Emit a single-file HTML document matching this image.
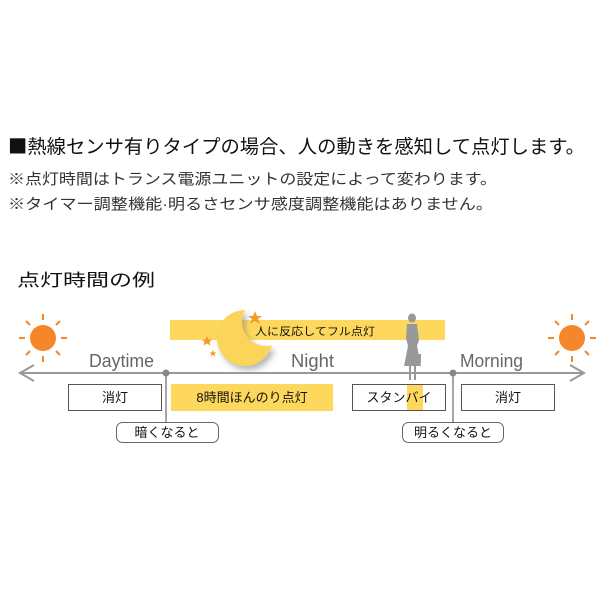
<!DOCTYPE html>
<html><head><meta charset="utf-8"><style>html,body{margin:0;padding:0;background:#fff}svg{display:block}</style></head><body>
<svg width="600" height="600" viewBox="0 0 600 600" xmlns="http://www.w3.org/2000/svg" font-family="'Liberation Sans','Noto Sans CJK JP',sans-serif">
<defs>
<filter id="sh" x="-50%" y="-50%" width="200%" height="200%"><feGaussianBlur stdDeviation="3"/></filter>
</defs>
<text x="8" y="153" font-size="19" textLength="577" lengthAdjust="spacingAndGlyphs" fill="#111"><tspan font-family="'Noto Sans CJK JP',sans-serif">■</tspan>熱線センサ有りタイプの場合、人の動きを感知して点灯します。</text>
<text x="8" y="184" font-size="15" textLength="489" lengthAdjust="spacingAndGlyphs" fill="#333">※点灯時間はトランス電源ユニットの設定によって変わります。</text>
<text x="8" y="209" font-size="15" textLength="485" lengthAdjust="spacingAndGlyphs" fill="#333">※タイマー調整機能·明るさセンサ感度調整機能はありません。</text>
<text x="17" y="286" font-size="17" textLength="138" lengthAdjust="spacingAndGlyphs" fill="#111">点灯時間の例</text>

<rect x="170" y="320" width="275" height="20" fill="#fed85c"/>
<path d="M245.2 310 A28 28 0 1 0 272 345.2 A24 24 0 0 1 245.2 310 Z" fill="#888" opacity="0.6" filter="url(#sh)" transform="translate(3,4)"/>
<path d="M245.2 310 A28 28 0 1 0 272 345.2 A24 24 0 0 1 245.2 310 Z" fill="#fbd55a"/>
<text x="255" y="335" font-size="11" textLength="120" lengthAdjust="spacingAndGlyphs" fill="#111">人に反応してフル点灯</text>
<polygon points="255,311 257,316 262,316 258,319 260,324 255,321 250,324 252,319 248,316 253,316" fill="#f39a2a"/>
<polygon points="207,336 208.5,339.5 212,339.5 209.5,342 210.5,345.5 207,343.5 203.5,345.5 204.5,342 202,339.5 205.5,339.5" fill="#f39a2a"/>
<polygon points="213,350 214,352.5 216.5,352.5 214.5,354 215.5,356.5 213,355 210.5,356.5 211.5,354 209.5,352.5 212,352.5" fill="#f39a2a"/>

<g stroke="#f5862a" stroke-width="2">
<line x1="43" y1="314" x2="43" y2="320"/><line x1="43" y1="356" x2="43" y2="362"/>
<line x1="19" y1="338" x2="25" y2="338"/><line x1="61" y1="338" x2="67" y2="338"/>
<line x1="26" y1="321" x2="30" y2="325"/><line x1="56" y1="351" x2="60" y2="355"/>
<line x1="60" y1="321" x2="56" y2="325"/><line x1="30" y1="351" x2="26" y2="355"/>
<line x1="572" y1="314" x2="572" y2="320"/><line x1="572" y1="356" x2="572" y2="362"/>
<line x1="548" y1="338" x2="554" y2="338"/><line x1="590" y1="338" x2="596" y2="338"/>
<line x1="555" y1="321" x2="559" y2="325"/><line x1="585" y1="351" x2="589" y2="355"/>
<line x1="589" y1="321" x2="585" y2="325"/><line x1="559" y1="351" x2="555" y2="355"/>
</g>
<circle cx="43" cy="338" r="13" fill="#f5862a"/>
<circle cx="572" cy="338" r="13" fill="#f5862a"/>

<text x="89" y="367" font-size="18" textLength="65" lengthAdjust="spacingAndGlyphs" fill="#666">Daytime</text>
<text x="291" y="367" font-size="18" textLength="43" lengthAdjust="spacingAndGlyphs" fill="#666">Night</text>
<text x="460" y="367" font-size="18" textLength="63" lengthAdjust="spacingAndGlyphs" fill="#666">Morning</text>

<line x1="20" y1="373" x2="584" y2="373" stroke="#999" stroke-width="2"/>
<polyline points="34,365 20,373 34,381" fill="none" stroke="#999" stroke-width="2"/>
<polyline points="570,365 584,373 570,381" fill="none" stroke="#999" stroke-width="2"/>

<g fill="#999">
<ellipse cx="412" cy="318" rx="4" ry="4.5"/>
<path d="M407,324 L417,324 L419,340 L417,346 L421,366 L404,366 L408,346 L406,338 Z"/>
<rect x="418" y="354" width="3" height="9"/>
<rect x="409" y="365" width="2" height="15"/><rect x="414" y="365" width="2" height="15"/>
</g>

<line x1="166" y1="373" x2="166" y2="422" stroke="#888" stroke-width="1.5"/>
<line x1="453" y1="373" x2="453" y2="422" stroke="#888" stroke-width="1.5"/>
<circle cx="166" cy="373" r="3.5" fill="#888"/>
<circle cx="453" cy="373" r="3.5" fill="#888"/>

<rect x="68.5" y="384.5" width="93" height="26" fill="#fff" stroke="#555"/>
<text x="115" y="402" font-size="13" text-anchor="middle" fill="#111">消灯</text>
<rect x="171" y="384" width="162" height="27" fill="#fed85c"/>
<text x="252" y="402" font-size="13" text-anchor="middle" fill="#111">8時間ほんのり点灯</text>
<rect x="407" y="384" width="16" height="27" fill="#fed85c"/>
<rect x="352.5" y="384.5" width="93" height="26" fill="none" stroke="#555"/>
<text x="399" y="402" font-size="13" text-anchor="middle" fill="#111">スタンバイ</text>
<rect x="461.5" y="384.5" width="93" height="26" fill="#fff" stroke="#555"/>
<text x="508" y="402" font-size="13" text-anchor="middle" fill="#111">消灯</text>

<rect x="116.5" y="422.5" width="102" height="20" rx="6" fill="#fff" stroke="#666"/>
<text x="167" y="437" font-size="13" text-anchor="middle" fill="#111">暗くなると</text>
<rect x="402.5" y="422.5" width="101" height="20" rx="6" fill="#fff" stroke="#666"/>
<text x="453" y="437" font-size="13" text-anchor="middle" fill="#111">明るくなると</text>
</svg>
</body></html>
